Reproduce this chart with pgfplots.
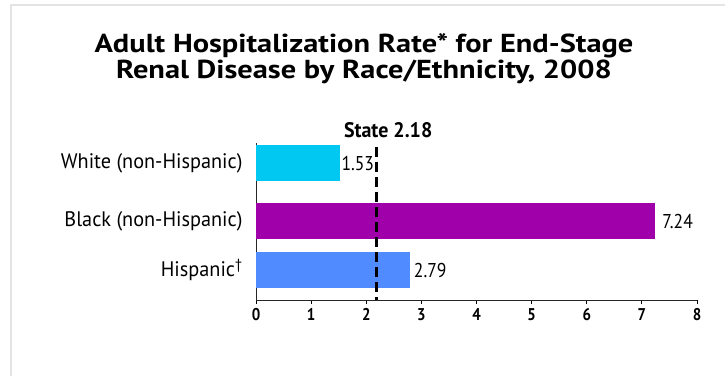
\documentclass[border=0pt]{standalone}
\usepackage{fontspec}
\setmainfont{PT Sans}
\newfontfamily\condfont[FakeStretch=0.88]{PT Sans}
\newfontfamily\labfont[FakeStretch=0.965]{PT Sans}
\newfontfamily\statefont[FakeStretch=0.95]{PT Sans}
\newfontfamily\titlefont[FakeStretch=1.17]{PT Sans}
\usepackage{pgfplots}
\pgfplotsset{compat=1.18}
\definecolor{cwhite}{RGB}{0,200,240}
\definecolor{cblack}{RGB}{160,0,170}
\definecolor{chisp}{RGB}{80,140,255}
\definecolor{frame}{RGB}{228,228,228}
\begin{document}
\begin{tikzpicture}
\path[use as bounding box] (0pt,0pt) rectangle (725pt,-375pt);
\draw[frame, line width=2pt] (11pt,-376pt) -- (11pt,-5pt) -- (726pt,-5pt);
\node[anchor=base, font=\titlefont\fontsize{26}{26}\selectfont\bfseries, inner sep=0pt] at (364pt,-52pt) {Adult Hospitalization Rate* for End-Stage};
\node[anchor=base, font=\titlefont\fontsize{26}{26}\selectfont\bfseries, inner sep=0pt] at (364pt,-78pt) {Renal Disease by Race/Ethnicity, 2008};
\begin{axis}[
  at={(256pt,-300pt)}, anchor=south west,
  scale only axis, width=441pt, height=157pt,
  xmin=0, xmax=8, ymin=-300, ymax=-143,
  xtick={0,1,2,3,4,5,6,7,8},
  ytick={-163,-221,-270},
  yticklabels={White (non-Hispanic), Black (non-Hispanic), Hispanic\textsuperscript{†}},
  axis x line*=bottom, axis y line*=left,
  axis line style={black!85, line width=0.8pt},
  x axis line style={-}, y axis line style={-},
  tick align=outside,
  major tick length=4pt,
  xtick style={black, line width=0.8pt},
  ytick style={draw=none},
  /pgf/number format/assume math mode=true,
  xticklabel style={font=\condfont\bfseries\fontsize{17}{17}\selectfont, yshift=-1pt},
  yticklabel style={font=\labfont\fontsize{21}{21}\selectfont, anchor=east, xshift=-6pt},
  clip=false,
]
\pgfplotsset{
  vals/.style={xbar, bar shift=0pt, bar width=36, draw=none,
  nodes near coords={\pgfmathprintnumber[fixed,fixed zerofill,precision=2]{\pgfplotspointmeta}},
  point meta=x,
  nodes near coords style={font=\condfont\fontsize{20}{20}\selectfont, anchor=west, inner sep=1pt, black}}
}
\addplot[vals, fill=cwhite] coordinates {(1.53,-163)};
\addplot[vals, fill=cblack, nodes near coords style={xshift=6pt}] coordinates {(7.24,-221)};
\addplot[vals, fill=chisp, nodes near coords style={xshift=3pt}] coordinates {(2.79,-270)};
\addplot[sharp plot, black, line width=3pt, dash pattern=on 10pt off 5pt] coordinates {(2.18,-147) (2.18,-300)};
\node[anchor=base, xshift=12pt, font=\statefont\bfseries\fontsize{21}{21}\selectfont] at (axis cs:2.18,-137) {State 2.18};
\end{axis}
\end{tikzpicture}
\end{document}
